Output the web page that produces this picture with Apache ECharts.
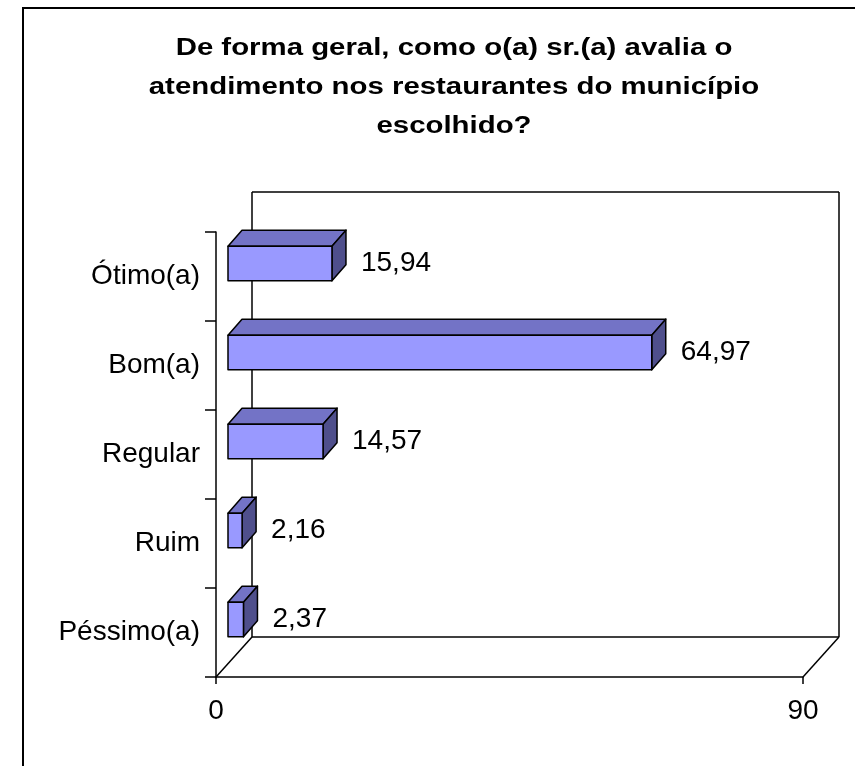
<!DOCTYPE html>
<html>
<head>
<meta charset="utf-8">
<script src="https://cdn.jsdelivr.net/npm/echarts@6/dist/echarts.min.js"></script>
<style>
  html, body { margin: 0; padding: 0; background: #fff; }
  #chart { width: 855px; height: 766px; }
</style>
</head>
<body>
<div id="chart"></div>
<script>
// Survey answers, top to bottom
const categories = ['Ótimo(a)', 'Bom(a)', 'Regular', 'Ruim', 'Péssimo(a)'];
const percentages = [15.94, 64.97, 14.57, 2.16, 2.37];
const axisMin = 0;
const axisMax = 90;
const titleText = 'De forma geral, como o(a) sr.(a) avalia o\natendimento nos restaurantes do município\nescolhido?';

const FONT = '"Liberation Sans", Arial, sans-serif';

// Perspective offsets for the pseudo-3D look
const WALL_DX = 36, WALL_DY = -40;   // full depth of the floor / back wall
const BAR_DX = 12, BAR_DY = -13;     // where the bar front face sits in depth
const BAR_DEPTH_X = 14, BAR_DEPTH_Y = -16;
const BAR_RATIO = 0.39;

const chart = echarts.init(document.getElementById('chart'), null, { renderer: 'canvas' });

function renderFrame(params, api) {
  const cs = params.coordSys;
  const x0 = cs.x, x1 = cs.x + cs.width;
  const yTop = cs.y, yBot = cs.y + cs.height;
  const line = (a, b) => ({
    type: 'line',
    shape: { x1: a[0], y1: a[1], x2: b[0], y2: b[1] },
    style: { stroke: '#000', lineWidth: 1.5 }
  });
  const bl = [x0 + WALL_DX, yBot + WALL_DY];
  const tl = [x0 + WALL_DX, yTop + WALL_DY];
  const tr = [x1 + WALL_DX, yTop + WALL_DY];
  const br = [x1 + WALL_DX, yBot + WALL_DY];
  return {
    type: 'group',
    children: [
      line(bl, tl), line(tl, tr), line(tr, br), line(bl, br),
      line([x0, yBot], bl), line([x1, yBot], br)
    ]
  };
}

function renderBar(params, api) {
  const cat = api.value(1);
  const val = api.value(0);
  const start = api.coord([0, cat]);
  const end = api.coord([val, cat]);
  const band = api.size([0, 1])[1];
  const h = band * BAR_RATIO;
  const xa = start[0] + BAR_DX;
  const xb = end[0] + BAR_DX;
  const yc = start[1] + BAR_DY;
  const ya = yc - h / 2;
  const yb = yc + h / 2;
  const stroke = { stroke: '#000', lineWidth: 1.5, lineJoin: 'round' };
  return {
    type: 'group',
    children: [
      {
        type: 'polygon',
        shape: { points: [[xa, ya], [xb, ya], [xb + BAR_DEPTH_X, ya + BAR_DEPTH_Y], [xa + BAR_DEPTH_X, ya + BAR_DEPTH_Y]] },
        style: Object.assign({ fill: '#7373C6' }, stroke)
      },
      {
        type: 'polygon',
        shape: { points: [[xb, ya], [xb + BAR_DEPTH_X, ya + BAR_DEPTH_Y], [xb + BAR_DEPTH_X, yb + BAR_DEPTH_Y], [xb, yb]] },
        style: Object.assign({ fill: '#4F4F8C' }, stroke)
      },
      {
        type: 'rect',
        shape: { x: xa, y: ya, width: xb - xa, height: h },
        style: Object.assign({ fill: '#9999FF' }, stroke)
      },
      {
        type: 'text',
        style: {
          x: xb + 29, y: yc,
          text: val.toFixed(2).replace('.', ','),
          fill: '#000',
          font: '28px ' + FONT,
          textAlign: 'left',
          textVerticalAlign: 'middle'
        }
      }
    ]
  };
}

chart.setOption({
  animation: false,
  backgroundColor: '#fff',
  graphic: [
    {
      // chart frame
      type: 'rect',
      shape: { x: 23, y: 8, width: 900, height: 900 },
      style: { fill: 'none', stroke: '#000', lineWidth: 2 },
      z: 100
    },
    {
      // title, set in a slightly widened bold face
      type: 'text',
      x: 454,
      y: 29,
      scaleX: 1.25,
      style: {
        text: titleText,
        textAlign: 'center',
        textVerticalAlign: 'top',
        font: 'bold 23.5px ' + FONT,
        lineHeight: 39,
        fill: '#000'
      },
      z: 100
    }
  ],
  grid: { left: 216, right: 52, top: 232, bottom: 89, containLabel: false },
  xAxis: {
    type: 'value',
    min: axisMin,
    max: axisMax,
    interval: 90,
    axisLine: { show: true, lineStyle: { color: '#000', width: 1.5 } },
    axisTick: { show: true, length: 7, lineStyle: { color: '#000', width: 1.5 } },
    splitLine: { show: false },
    axisLabel: { fontFamily: FONT, fontSize: 28, color: '#000', margin: 20 }
  },
  yAxis: {
    type: 'category',
    data: categories,
    inverse: true,
    axisLine: { show: true, lineStyle: { color: '#000', width: 1.5 } },
    axisTick: { show: true, length: 11, lineStyle: { color: '#000', width: 1.5 } },
    splitLine: { show: false },
    axisLabel: { fontFamily: FONT, fontSize: 28, color: '#000', margin: 16, padding: [3, 0, 0, 0] }
  },
  series: [
    {
      type: 'custom',
      name: 'frame',
      renderItem: renderFrame,
      data: [[0, 0]],
      encode: { x: 0, y: 1 },
      silent: true,
      z: 1
    },
    {
      type: 'custom',
      name: 'bars',
      renderItem: renderBar,
      data: percentages.map((v, i) => [v, i]),
      encode: { x: 0, y: 1 },
      z: 2
    }
  ]
});
</script>
</body>
</html>
